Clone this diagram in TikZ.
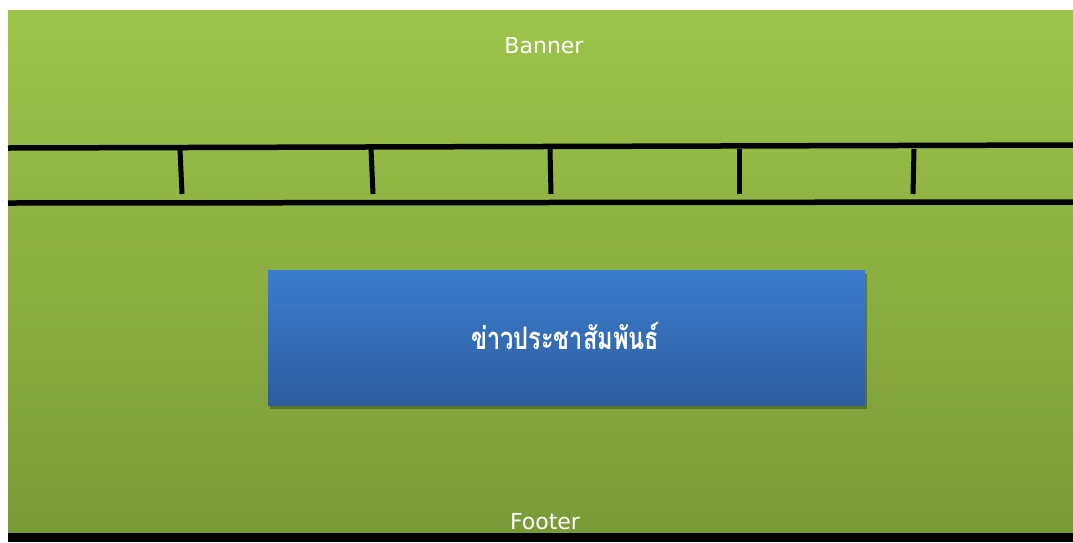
\documentclass[tikz,border=0pt]{standalone}
\usepackage{fontspec}
\setmainfont{DejaVu Sans}
\newfontfamily\thaifont[Script=Thai]{Loma}
\usetikzlibrary{shadows}
\definecolor{greentop}{RGB}{157,196,74}
\definecolor{greenbot}{RGB}{122,154,56}
\definecolor{bluetop}{RGB}{59,125,206}
\definecolor{bluebot}{RGB}{46,93,158}
\tikzset{
  rule/.style={line width=5.5pt, black},
  divider/.style={line width=5pt, black},
  label/.style={text=white, font=\fontsize{22}{24}\selectfont, inner sep=0pt},
  newsbox/.style={draw=none, top color=bluetop, bottom color=bluebot, minimum width=597pt, minimum height=135pt, inner sep=0pt,
    drop shadow={shadow xshift=1.5pt, shadow yshift=-3.5pt, fill=black, opacity=0.3}},
}
\begin{document}
\begin{tikzpicture}[x=1pt,y=-1pt]
\useasboundingbox (0,0) rectangle (1073,542);
\fill[white] (0,0) rectangle (1073,542);
\shade[top color=greentop, bottom color=greenbot] (8,10) rectangle (1073,534);
\fill[black] (8,533) rectangle (1073,542);
% navigation bar
\draw[rule] (8,148) -- (1073,145);
\draw[rule] (8,203) -- (1073,202);
\foreach \xa/\xb in {180/182, 371/373, 550/551, 739/739, 914/913}
  \draw[divider] (\xa,149) -- (\xb,194);
\node[label] (banner) at (544,46) {Banner};
\node[label, anchor=base] (footer) at (545,529) {Footer};
\node[newsbox] (news) at (566.5,337.5) {};
\node[text=white, font=\thaifont\bfseries\fontsize{31}{34}\selectfont, inner sep=0pt, xscale=0.76] (newstext) at (565,336) {ข่าวประชาสัมพันธ์};
\end{tikzpicture}
\end{document}
